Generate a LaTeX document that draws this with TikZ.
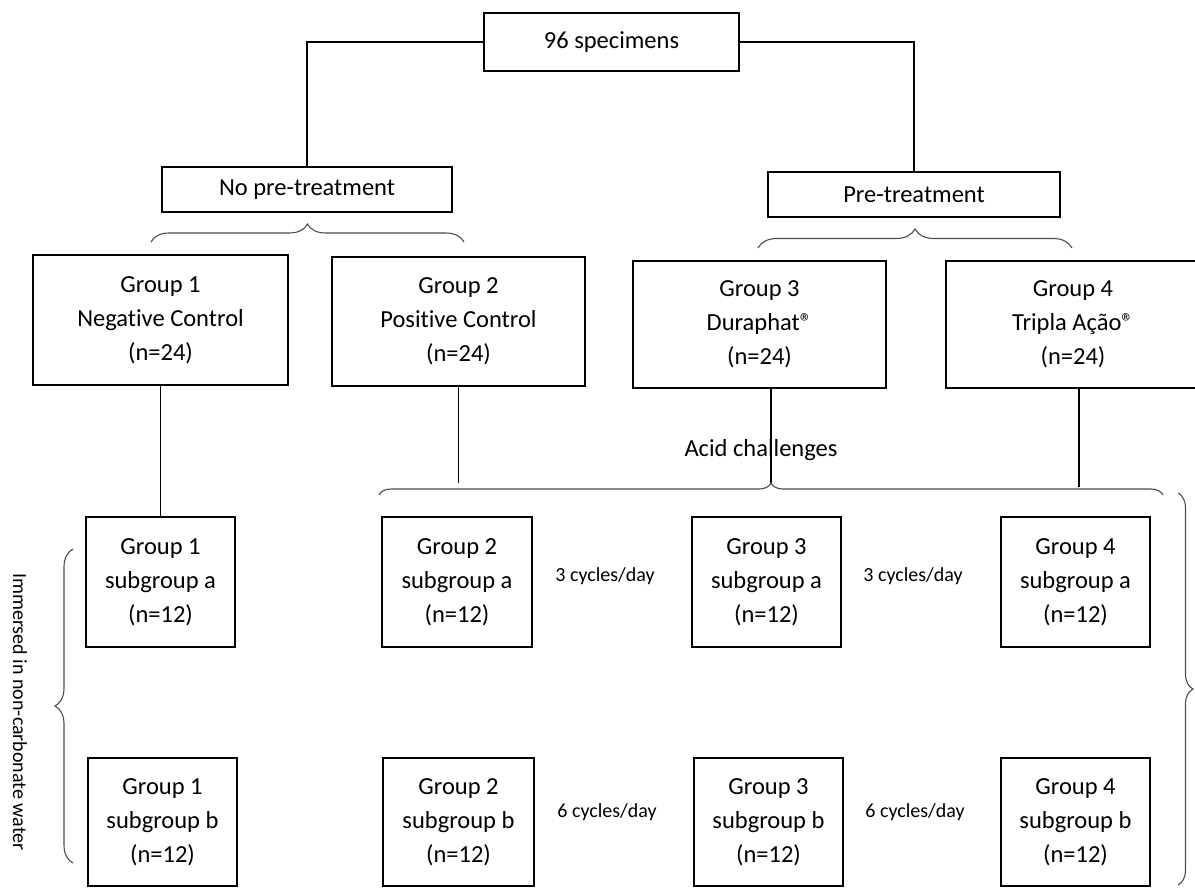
\documentclass[tikz,border=0pt]{standalone}
\usepackage{fontspec}
\setmainfont{Carlito}[Ligatures=NoCommon]
\usetikzlibrary{decorations.pathreplacing,calc}
\begin{document}
\begin{tikzpicture}[x=1pt,y=-1pt,
  box/.style={draw, line width=1.7pt, inner sep=0pt, align=center, font=\fontsize{24.5}{34}\selectfont},
  conn/.style={line width=1.6pt},
  brc/.style={decorate, decoration={brace, amplitude=#1}, line width=1.1pt, draw=black!70},
  lbl/.style={font=\fontsize{20}{24}\selectfont, inner sep=0pt}]
\useasboundingbox (0,0) rectangle (1195,887);
% top level
\node[box, minimum width=255pt, minimum height=58pt] (top) at (611.5,42) {96 specimens};
\node[box, minimum width=290pt, minimum height=45pt] (nopre) at (307,189.5) {No pre-treatment};
\node[box, minimum width=292pt, minimum height=45pt] (pre) at (914,194.5) {Pre-treatment};
% groups
\node[box, minimum width=255pt, minimum height=130pt] (g1) at (160.5,320) {Group 1\\Negative Control\\(n=24)};
\node[box, minimum width=253pt, minimum height=129pt] (g2) at (458.5,321.5) {Group 2\\Positive Control\\(n=24)};
\node[box, minimum width=253pt, minimum height=127pt] (g3) at (759.5,324.5) {Group 3\\Duraphat®\\(n=24)};
\node[box, minimum width=254pt, minimum height=127pt] (g4) at (1073,324.5) {Group 4\\Tripla Ação®\\(n=24)};
% subgroups a
\node[box, minimum width=149pt, minimum height=130pt] (g1a) at (160.5,582) {Group 1\\subgroup a\\(n=12)};
\node[box, minimum width=150pt, minimum height=130pt] (g2a) at (457,582) {Group 2\\subgroup a\\(n=12)};
\node[box, minimum width=149pt, minimum height=130pt] (g3a) at (766.5,582) {Group 3\\subgroup a\\(n=12)};
\node[box, minimum width=149pt, minimum height=130pt] (g4a) at (1075.5,582) {Group 4\\subgroup a\\(n=12)};
% subgroups b
\node[box, minimum width=149pt, minimum height=128pt] (g1b) at (162.5,822) {Group 1\\subgroup b\\(n=12)};
\node[box, minimum width=151pt, minimum height=128pt] (g2b) at (458.5,822) {Group 2\\subgroup b\\(n=12)};
\node[box, minimum width=149pt, minimum height=128pt] (g3b) at (768.5,822) {Group 3\\subgroup b\\(n=12)};
\node[box, minimum width=149pt, minimum height=128pt] (g4b) at (1075.5,822) {Group 4\\subgroup b\\(n=12)};
% labels
\node[font=\fontsize{24.5}{30}\selectfont, inner sep=0pt] (acid) at (761,450) {Acid challenges};
\node[lbl] (c3a) at (605,576) {3 cycles/day};
\node[lbl] (c3b) at (913,576) {3 cycles/day};
\node[lbl] (c6a) at (607,812) {6 cycles/day};
\node[lbl] (c6b) at (915,812) {6 cycles/day};
\node[lbl, rotate=-90] (imm) at (20,712) {Immersed in non-carbonate water};
% connectors
\draw[conn] (top.west) -| (nopre.north);
\draw[conn] (top.east) -| (pre.north);
\draw[conn] (g1.south) -- (g1a.north);
\coordinate (c2) at (458.5,483);
\coordinate (c3) at (771,483);
\coordinate (c4) at (1079,487);
\draw[conn] (g2.south) -- (c2);
\draw[conn] ([xshift=11.5pt]g3.south) -- (c3);
\draw[conn] ([xshift=6pt]g4.south) -- (c4);
% braces
\coordinate (b1l) at (151,242); \coordinate (b1r) at (464,242);
\coordinate (b2l) at (758,248); \coordinate (b2r) at (1072,248);
\coordinate (b3l) at (379,495); \coordinate (b3r) at (1163,495);
\coordinate (b4t) at (1178,493); \coordinate (b4b) at (1178,885);
\coordinate (b5b) at (73,863); \coordinate (b5t) at (73,549);
\draw[brc=18pt] (b1l) -- (b1r);
\draw[brc=19pt] (b2l) -- (b2r);
\draw[brc=12pt] (b3l) -- (b3r);
\draw[brc=15pt] (b4t) -- (b4b);
\draw[brc=18pt] (b5b) -- (b5t);
\end{tikzpicture}
\end{document}
